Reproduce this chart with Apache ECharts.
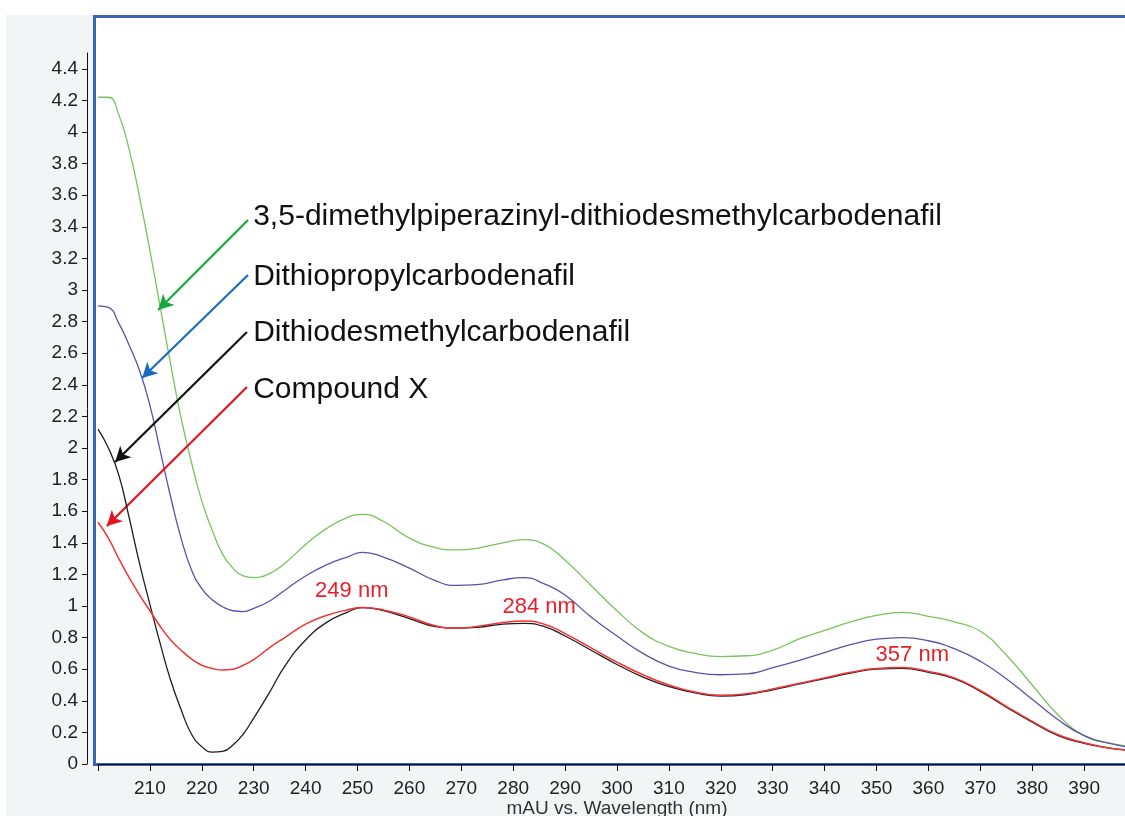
<!DOCTYPE html>
<html>
<head>
<meta charset="utf-8">
<script src="https://cdn.jsdelivr.net/npm/echarts@6/dist/echarts.min.js"></script>
<style>
html,body{margin:0;padding:0;background:#ffffff;}
#chart{width:1125px;height:816px;}
</style>
</head>
<body>
<div id="chart"></div>
<script>
// ---- data ----
const wavelengths = [200,202,204,206,208,210,212,214,216,218,220,222,224,226,228,230,233,236,240,244,248,251,255,260,265,269,273,278,282,286,290,295,300,305,310,315,320,325,330,335,340,345,350,355,360,365,370,375,380,385,390,395,400];
const greenVals = [4.22,4.22,4.11,3.89,3.59,3.25,2.89,2.53,2.19,1.91,1.665,1.48,1.33,1.24,1.19,1.18,1.205,1.27,1.39,1.49,1.56,1.58,1.535,1.43,1.37,1.355,1.365,1.40,1.42,1.39,1.29,1.13,0.97,0.83,0.745,0.70,0.68,0.685,0.72,0.79,0.845,0.90,0.94,0.96,0.935,0.90,0.84,0.69,0.50,0.31,0.18,0.13,0.11];
const blueVals = [2.90,2.89,2.79,2.65,2.49,2.27,1.98,1.69,1.43,1.23,1.11,1.04,0.995,0.97,0.965,0.985,1.03,1.10,1.19,1.26,1.31,1.34,1.31,1.24,1.16,1.13,1.135,1.165,1.18,1.14,1.07,0.93,0.81,0.70,0.62,0.58,0.565,0.57,0.61,0.655,0.705,0.755,0.79,0.80,0.78,0.73,0.65,0.54,0.41,0.28,0.18,0.13,0.10];
const blackVals = [2.12,2.00,1.83,1.56,1.27,1.01,0.76,0.53,0.345,0.19,0.11,0.075,0.08,0.12,0.19,0.29,0.45,0.62,0.785,0.895,0.96,0.99,0.97,0.92,0.87,0.86,0.865,0.885,0.89,0.87,0.81,0.72,0.63,0.55,0.49,0.45,0.43,0.44,0.47,0.505,0.54,0.575,0.60,0.605,0.58,0.54,0.46,0.36,0.265,0.18,0.13,0.10,0.085];
const redVals = [1.53,1.43,1.30,1.18,1.07,0.97,0.87,0.785,0.72,0.665,0.625,0.605,0.595,0.60,0.625,0.66,0.735,0.80,0.885,0.94,0.975,0.99,0.975,0.93,0.875,0.86,0.87,0.895,0.905,0.885,0.825,0.735,0.645,0.565,0.50,0.455,0.435,0.445,0.475,0.51,0.545,0.58,0.605,0.61,0.585,0.545,0.465,0.365,0.27,0.185,0.135,0.10,0.085];

const seriesNames = ['3,5-dimethylpiperazinyl-dithiodesmethylcarbodenafil','Dithiopropylcarbodenafil','Dithiodesmethylcarbodenafil','Compound X'];
// annotation arrows: [startNm, startVal, tipNm, tipVal]
const arrowCoords = [[228.9,3.443,211.6,2.873],[228.9,3.095,208.5,2.443],[228.7,2.734,203.3,1.911],[228.7,2.386,201.7,1.506]];
// label anchor (left, middle) [nm, value]
const labelCoords = [[229.9,3.462],[229.9,3.082],[229.9,2.731],[229.9,2.37]];
// peak labels [text, nm, value]
const peakLabels = [['249 nm',248.9,1.098],['284 nm',285.0,0.994],['357 nm',356.9,0.690]];

const xTickValues = [200,210,220,230,240,250,260,270,280,290,300,310,320,330,340,350,360,370,380,390,400];
const xLabelValues = [210,220,230,240,250,260,270,280,290,300,310,320,330,340,350,360,370,380,390];
const yTickValues = [0,0.2,0.4,0.6,0.8,1,1.2,1.4,1.6,1.8,2,2.2,2.4,2.6,2.8,3,3.2,3.4,3.6,3.8,4,4.2,4.4];

const lineColors = ['#78c45c','#5a52a8','#1e1e1e','#f03434'];
const arrowColors = ['#17a83c','#1b6cc0','#111111','#e3141e'];
const valsList = [greenVals, blueVals, blackVals, redVals];

function pairs(vals){ return wavelengths.map((w,i)=>[w, vals[i]]); }

const series = valsList.map((vals, i) => {
  const s = {
    name: seriesNames[i],
    type: 'line',
    data: pairs(vals),
    smooth: 0.5,
    showSymbol: false,
    symbol: 'none',
    lineStyle: {color: lineColors[i], width: i === 3 ? 1.5 : 1.3},
    z: 3 + i,
    markLine: {
      silent: true,
      symbol: ['none','arrow'],
      symbolSize: [12, 15],
      label: {show: false},
      lineStyle: {color: arrowColors[i], width: 2.2, type: 'solid'},
      data: [[{coord: [arrowCoords[i][0], arrowCoords[i][1]]}, {coord: [arrowCoords[i][2], arrowCoords[i][3]]}]]
    },
    markPoint: {
      silent: true,
      symbol: 'circle',
      symbolSize: 0,
      data: [{
        coord: labelCoords[i],
        label: {show: true, position: 'right', distance: 0, formatter: seriesNames[i],
          color: '#111', fontSize: 30, fontFamily: 'Liberation Sans, Arial, sans-serif'}
      }]
    }
  };
  if (i === 3) {
    s.markPoint.data = s.markPoint.data.concat(peakLabels.map(p => ({
      coord: [p[1], p[2]],
      label: {show: true, position: 'inside', formatter: p[0], color: '#e8202a', fontSize: 22,
        fontFamily: 'Liberation Sans, Arial, sans-serif'}
    })));
  }
  return s;
});

const chart = echarts.init(document.getElementById('chart'), null, {renderer: 'canvas'});
chart.setOption({
  animation: false,
  backgroundColor: '#ffffff',
  graphic: [
    {type: 'rect', z: -10, shape: {x: 6, y: 15, width: 1125, height: 810}, style: {fill: '#f3f4f6'}},
    {type: 'rect', z: -5, shape: {x: 94.5, y: 16.5, width: 1100, height: 748}, style: {fill: '#ffffff', stroke: '#3b63b6', lineWidth: 3}}
  ],
  grid: {left: 98, right: -11, top: 53, bottom: 52, containLabel: false, outerBoundsMode: 'none'},
  xAxis: {
    type: 'value', min: 200, max: 400, interval: 10, offset: 4,
    name: 'mAU vs. Wavelength (nm)', nameLocation: 'middle', nameGap: 31, nameMoveOverlap: false,
    nameTextStyle: {color: '#333', fontSize: 19, fontFamily: 'Liberation Sans, Arial, sans-serif'},
    axisLine: {show: true, lineStyle: {color: '#111', width: 1}},
    axisTick: {show: true, length: 7, lineStyle: {color: '#111'}, customValues: xTickValues},
    axisLabel: {show: true, margin: 11, color: '#222', fontSize: 19, fontFamily: 'Liberation Sans, Arial, sans-serif', customValues: xLabelValues},
    splitLine: {show: false}
  },
  yAxis: {
    type: 'value', min: 0, max: 4.5, interval: 0.2, offset: 11,
    axisLine: {show: true, lineStyle: {color: '#111', width: 1}},
    axisTick: {show: true, length: 5, lineStyle: {color: '#111'}, customValues: yTickValues},
    axisLabel: {show: true, margin: 9, color: '#222', fontSize: 19, fontFamily: 'Liberation Sans, Arial, sans-serif', customValues: yTickValues},
    splitLine: {show: false}
  },
  series: series
});
</script>
</body>
</html>
